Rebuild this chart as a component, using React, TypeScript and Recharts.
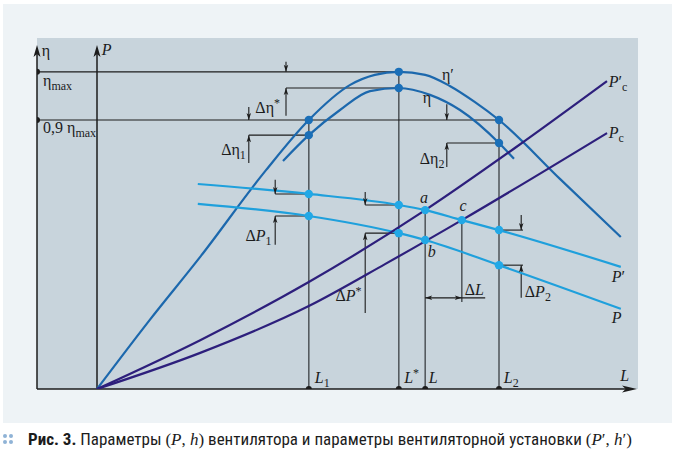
import React from 'react';
import { ComposedChart, Line, Scatter, XAxis, YAxis, ReferenceLine, ReferenceDot } from 'recharts';

// x — подача L (условные единицы), y — η или P (условные единицы)
const etaPrime = [
  { x: 0, y: 0 }, { x: 8.8, y: 20.1 }, { x: 17.2, y: 38.4 }, { x: 28.2, y: 63.7 },
  { x: 35.3, y: 78.2 }, { x: 42.2, y: 88.4 }, { x: 46.3, y: 91.3 }, { x: 50.3, y: 92.2 },
  { x: 54.7, y: 91.3 }, { x: 58.8, y: 88.1 }, { x: 63, y: 83.4 }, { x: 67, y: 78.2 },
  { x: 77.2, y: 61 }, { x: 87.3, y: 44.2 },
];
const eta = [
  { x: 31, y: 66.3 }, { x: 35.3, y: 73.8 }, { x: 40.5, y: 81.1 }, { x: 45.5, y: 86.6 },
  { x: 50.3, y: 87.5 }, { x: 55.5, y: 85.5 }, { x: 60.5, y: 81.1 }, { x: 67, y: 71.5 },
  { x: 69.5, y: 66.9 },
];
const pPrime = [
  { x: 16.8, y: 59.6 }, { x: 35.3, y: 56.7 }, { x: 50.3, y: 53.5 }, { x: 54.7, y: 52 },
  { x: 60.8, y: 49.1 }, { x: 67, y: 46.2 }, { x: 87.3, y: 35.5 },
];
const pFan = [
  { x: 16.8, y: 53.8 }, { x: 35.3, y: 50.3 }, { x: 50.3, y: 45.3 }, { x: 54.7, y: 43.3 },
  { x: 67, y: 36 }, { x: 87.3, y: 23.3 },
];
const pcPrime = [
  { x: 0, y: 0 }, { x: 17.2, y: 14.2 }, { x: 35.3, y: 31.1 }, { x: 54.7, y: 52 },
  { x: 70, y: 70.5 }, { x: 85, y: 89.5 },
];
const pc = [
  { x: 0, y: 0 }, { x: 17.2, y: 10.5 }, { x: 35.3, y: 24.1 }, { x: 48, y: 36.3 },
  { x: 60.8, y: 49.1 }, { x: 85, y: 74.4 },
];

const etaDots = [
  { x: 35.3, y: 78.2 }, { x: 50.3, y: 92.2 }, { x: 67, y: 78.2 },
  { x: 35.3, y: 73.8 }, { x: 50.3, y: 87.5 }, { x: 67, y: 71.5 },
];
const pDots = [
  { x: 35.3, y: 56.7 }, { x: 50.3, y: 53.5 }, { x: 54.7, y: 52 }, { x: 60.8, y: 49.1 }, { x: 67, y: 46.2 },
  { x: 35.3, y: 50.3 }, { x: 50.3, y: 45.3 }, { x: 54.7, y: 43.3 }, { x: 67, y: 36 },
];
const axisDots = [
  { x: -10, y: 92.2 }, { x: -10, y: 78.2 },
  { x: 35.3, y: 0 }, { x: 50.3, y: 0 }, { x: 54.7, y: 0 }, { x: 67, y: 0 },
];

// вспомогательные линии: [x1, y1, x2, y2]
const blackLines = [
  [-10, 92.2, 50.3, 92.2], [-10, 78.2, 67, 78.2],
  [31.5, 87.5, 50.3, 87.5], [25.3, 73.8, 35.3, 73.8], [58.3, 71.5, 67, 71.5],
  [29.7, 56.7, 35.3, 56.7], [29.7, 50.3, 35.3, 50.3],
  [44.7, 53.5, 50.3, 53.5], [44.7, 45.3, 50.3, 45.3],
  [67, 46.2, 71, 46.2], [67, 36, 71, 36],
  [54.7, 26.5, 64.7, 26.5],
  // стрелки размеров
  [31.5, 95.1, 31.5, 92.2], [31.5, 79.4, 31.5, 87.5],
  [25.3, 82, 25.3, 78.2], [25.3, 65.7, 25.3, 73.8],
  [58.3, 82.8, 58.3, 78.2], [58.3, 64.5, 58.3, 71.5],
  [29.7, 60.8, 29.7, 56.7], [29.7, 41.9, 29.7, 50.3],
  [44.7, 57.3, 44.7, 53.5], [44.7, 22.1, 44.7, 45.3],
  [70.7, 50.6, 70.7, 46.2], [70.7, 26.5, 70.7, 36],
];
const grayLines = [
  [35.3, 0, 35.3, 78.2], [50.3, 0, 50.3, 92.2], [54.7, 0, 54.7, 52],
  [67, 0, 67, 78.2], [60.8, 25.3, 60.8, 49.1],
];
// наконечники: x, y (остриё), направление
const arrowHeads = [
  { x: 31.5, y: 92.2, d: 'down' }, { x: 31.5, y: 87.5, d: 'up' },
  { x: 25.3, y: 78.2, d: 'down' }, { x: 25.3, y: 73.8, d: 'up' },
  { x: 58.3, y: 78.2, d: 'down' }, { x: 58.3, y: 71.5, d: 'up' },
  { x: 29.7, y: 56.7, d: 'down' }, { x: 29.7, y: 50.3, d: 'up' },
  { x: 44.7, y: 53.5, d: 'down' }, { x: 44.7, y: 45.3, d: 'up' },
  { x: 70.7, y: 46.2, d: 'down' }, { x: 70.7, y: 36, d: 'up' },
  { x: 54.7, y: 26.5, d: 'left' }, { x: 60.8, y: 26.5, d: 'right' },
];

type Part = { t: string; i?: boolean; sub?: boolean; sup?: boolean };
const labels: { x: number; y: number; a?: string; parts: Part[] }[] = [
  { x: -9.2, y: 96.9, parts: [{ t: 'η' }] },
  { x: 0.8, y: 97.1, parts: [{ t: 'P', i: true }] },
  { x: -9, y: 88.1, parts: [{ t: 'η' }, { t: 'max', sub: true }] },
  { x: -9, y: 74.4, parts: [{ t: '0,9 ' }, { t: 'η' }, { t: 'max', sub: true }] },
  { x: 30.5, y: 80.2, a: 'end', parts: [{ t: 'Δη' }, { t: '*', sup: true }] },
  { x: 24.8, y: 68, a: 'end', parts: [{ t: 'Δη' }, { t: '1', sub: true }] },
  { x: 57.9, y: 65.4, a: 'end', parts: [{ t: 'Δη' }, { t: '2', sub: true }] },
  { x: 29.1, y: 42.9, a: 'end', parts: [{ t: 'Δ' }, { t: 'P', i: true }, { t: '1', sub: true }] },
  { x: 44.1, y: 25.6, a: 'end', parts: [{ t: 'Δ' }, { t: 'P', i: true }, { t: '*', sup: true }] },
  { x: 61.3, y: 27.3, parts: [{ t: 'Δ' }, { t: 'L', i: true }] },
  { x: 71.3, y: 26.7, parts: [{ t: 'Δ' }, { t: 'P', i: true }, { t: '2', sub: true }] },
  { x: 54.5, y: 54.2, a: 'middle', parts: [{ t: 'a', i: true }] },
  { x: 55.8, y: 38.4, a: 'middle', parts: [{ t: 'b', i: true }] },
  { x: 61, y: 51.6, a: 'middle', parts: [{ t: 'c', i: true }] },
  { x: 57.5, y: 89.8, parts: [{ t: 'η′' }] },
  { x: 54.3, y: 83.1, parts: [{ t: 'η' }] },
  { x: 85.3, y: 87.8, parts: [{ t: 'P', i: true }, { t: '′' }, { t: 'c', sub: true }] },
  { x: 85.3, y: 73, parts: [{ t: 'P', i: true }, { t: 'c', sub: true }] },
  { x: 85.8, y: 31.1, parts: [{ t: 'P', i: true }, { t: '′' }] },
  { x: 85.8, y: 19.2, parts: [{ t: 'P', i: true }] },
  { x: 36.3, y: 1.8, parts: [{ t: 'L', i: true }, { t: '1', sub: true }] },
  { x: 51.2, y: 1.8, parts: [{ t: 'L', i: true }, { t: '*', sup: true }] },
  { x: 55.3, y: 1.8, parts: [{ t: 'L', i: true }] },
  { x: 67.8, y: 1.8, parts: [{ t: 'L', i: true }, { t: '2', sub: true }] },
  { x: 87.2, y: 2.2, parts: [{ t: 'L', i: true }] },
];

const SERIF = "'Liberation Serif', 'DejaVu Serif', serif";

const TextMark = ({ cx, cy, parts, anchor }: any) => {
  let prev = 0;
  return (
    <text x={cx} y={cy} textAnchor={anchor || 'start'} fontFamily={SERIF} fontSize={16} fill="#1c1c1c">
      {parts.map((p: Part, i: number) => {
        const shift = p.sub ? 4 : p.sup ? -6 : 0;
        const dy = shift - prev;
        prev = shift;
        return (
          <tspan key={i} dy={dy} fontStyle={p.i ? 'italic' : 'normal'} fontSize={p.sub || p.sup ? 12 : 16}>
            {p.t}
          </tspan>
        );
      })}
    </text>
  );
};

const ArrowHead = ({ cx, cy, dir, len = 7, w = 4.5 }: any) => {
  const rot = { up: 0, right: 90, down: 180, left: 270 }[dir as string] || 0;
  return (
    <path
      d={`M0,0 L${w / 2},${len} L0,${len * 0.75} L${-w / 2},${len} Z`}
      transform={`translate(${cx},${cy}) rotate(${rot})`}
      fill="#1c1c1c"
    />
  );
};

const Caption = () => (
  <div style={{ position: 'absolute', left: 0, top: 428, width: 676, height: 24, fontFamily: "'Liberation Sans Narrow', 'Roboto Condensed', Roboto, sans-serif", fontSize: 17, color: '#1c1c1c', whiteSpace: 'nowrap' }}>
    <svg width={14} height={14} style={{ position: 'absolute', left: 2, top: 5 }}>
      {[[3, 3], [9, 3], [3, 9], [9, 9]].map(([x, y], i) => (
        <circle key={i} cx={x} cy={y} r={2} fill="#8fb3d6" />
      ))}
    </svg>
    <span style={{ position: 'absolute', left: 28, top: 1 }}>
      <b>Рис. 3.</b> Параметры <span style={{ fontFamily: SERIF }}>(<i>P</i>, <i>h</i>)</span> вентилятора и параметры вентиляторной установки <span style={{ fontFamily: SERIF }}>(<i>P</i>′, <i>h</i>′)</span>
    </span>
  </div>
);

export default function App() {
  return (
    <div style={{ position: 'absolute', left: 0, top: 0, width: 676, height: 456, background: '#ffffff', overflow: 'hidden' }}>
      <div style={{ position: 'absolute', left: 3, top: 4, width: 669, height: 419, background: '#eef3f6' }} />
      <div style={{ position: 'absolute', left: 37, top: 38, width: 601, height: 351, background: '#c8d4dc' }} />
      <div style={{ position: 'absolute', left: 0, top: 0 }}>
        <ComposedChart width={676} height={456} margin={{ top: 45, right: 39, bottom: 67, left: 37 }}>
          <XAxis type="number" dataKey="x" domain={[-10, 90]} hide allowDataOverflow />
          <YAxis type="number" dataKey="y" domain={[0, 100]} hide allowDataOverflow />

          {grayLines.map((s, i) => (
            <ReferenceLine key={`g${i}`} segment={[{ x: s[0], y: s[1] }, { x: s[2], y: s[3] }]} stroke="#555b60" strokeWidth={1.6} ifOverflow="visible" />
          ))}
          {blackLines.map((s, i) => (
            <ReferenceLine key={`b${i}`} segment={[{ x: s[0], y: s[1] }, { x: s[2], y: s[3] }]} stroke="#1c1c1c" strokeWidth={1.1} ifOverflow="visible" />
          ))}
          <ReferenceLine segment={[{ x: -10, y: 0 }, { x: -10, y: 99 }]} stroke="#1c1c1c" strokeWidth={1.5} ifOverflow="visible" />
          <ReferenceLine segment={[{ x: 0, y: 0 }, { x: 0, y: 99 }]} stroke="#1c1c1c" strokeWidth={1.5} ifOverflow="visible" />
          <ReferenceLine segment={[{ x: -10, y: 0 }, { x: 89, y: 0 }]} stroke="#1c1c1c" strokeWidth={1.5} ifOverflow="visible" />

          <Line data={etaPrime} dataKey="y" type="monotone" stroke="#1c68ad" strokeWidth={2.2} dot={false} isAnimationActive={false} />
          <Line data={eta} dataKey="y" type="monotone" stroke="#1c68ad" strokeWidth={2.2} dot={false} isAnimationActive={false} />
          <Line data={pPrime} dataKey="y" type="monotone" stroke="#1fa0dc" strokeWidth={2.2} dot={false} isAnimationActive={false} />
          <Line data={pFan} dataKey="y" type="monotone" stroke="#1fa0dc" strokeWidth={2.2} dot={false} isAnimationActive={false} />
          <Line data={pcPrime} dataKey="y" type="monotone" stroke="#2d1f7c" strokeWidth={2.2} dot={false} isAnimationActive={false} />
          <Line data={pc} dataKey="y" type="monotone" stroke="#2d1f7c" strokeWidth={2.2} dot={false} isAnimationActive={false} />

          <Scatter data={etaDots} dataKey="y" fill="#1a6fb8" isAnimationActive={false}
            shape={(p: any) => <circle cx={p.cx} cy={p.cy} r={4.2} fill="#1a6fb8" />} />
          <Scatter data={pDots} dataKey="y" fill="#22a8e6" isAnimationActive={false}
            shape={(p: any) => <circle cx={p.cx} cy={p.cy} r={4.2} fill="#22a8e6" />} />
          <Scatter data={axisDots} dataKey="y" fill="#1c1c1c" isAnimationActive={false}
            shape={(p: any) => <circle cx={p.cx} cy={p.cy} r={3} fill="#1c1c1c" />} />

          {arrowHeads.map((h, i) => (
            <ReferenceDot key={`a${i}`} x={h.x} y={h.y} ifOverflow="visible"
              shape={(p: any) => <ArrowHead cx={p.cx} cy={p.cy} dir={h.d} />} />
          ))}
          <ReferenceDot x={-10} y={100} ifOverflow="visible" shape={(p: any) => <ArrowHead cx={p.cx} cy={p.cy} dir="up" len={12} w={7} />} />
          <ReferenceDot x={0} y={100} ifOverflow="visible" shape={(p: any) => <ArrowHead cx={p.cx} cy={p.cy} dir="up" len={12} w={7} />} />
          <ReferenceDot x={90} y={0} ifOverflow="visible" shape={(p: any) => <ArrowHead cx={p.cx} cy={p.cy} dir="right" len={15} w={7} />} />

          {labels.map((l, i) => (
            <ReferenceDot key={`l${i}`} x={l.x} y={l.y} ifOverflow="visible"
              shape={(p: any) => <TextMark cx={p.cx} cy={p.cy} parts={l.parts} anchor={l.a} />} />
          ))}
        </ComposedChart>
      </div>
      <Caption />
    </div>
  );
}
